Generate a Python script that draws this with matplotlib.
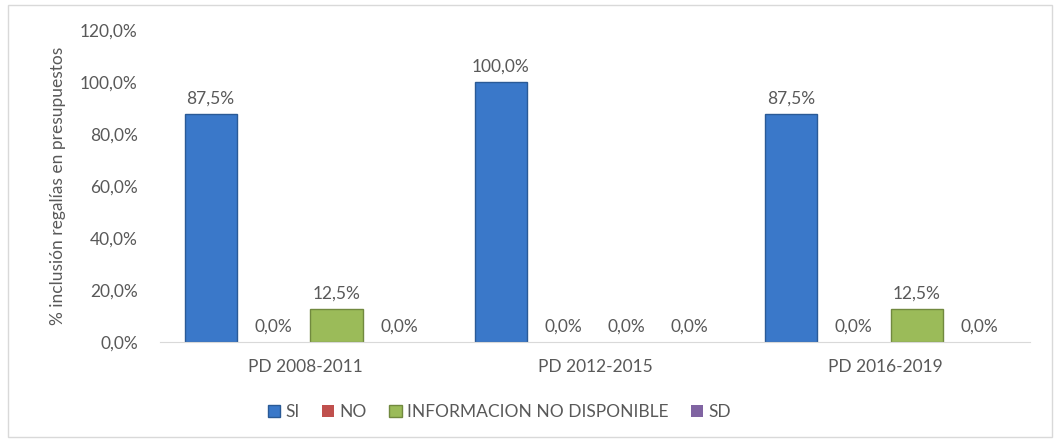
import matplotlib.pyplot as plt
import numpy as np

categorias = ["PD 2008-2011", "PD 2012-2015", "PD 2016-2019"]
series = ["SI", "NO", "INFORMACION NO DISPONIBLE", "SD"]
si = [87.5, 100.0, 87.5]
no = [0.0, 0.0, 0.0]
no_disp = [12.5, 0.0, 12.5]
sd = [0.0, 0.0, 0.0]

colores = ["#3A78C9", "#C0504D", "#9BBB59", "#8064A2"]
bordes = ["#2A5A96", "#8E3A38", "#71893F", "#5E4A78"]
gris = "#595959"

plt.rcParams['font.family'] = ['Lato', 'DejaVu Sans']

fig = plt.figure(figsize=(10.6, 4.41), dpi=100)
ax = fig.add_axes([0.151, 0.2245, 0.821, 0.7075])

x = np.arange(len(categorias))
ancho = 0.18
paso = 0.217
valores = [si, no, no_disp, sd]

for i, (nombre, vals) in enumerate(zip(series, valores)):
    pos = x + (i - 1.5) * paso
    grosor = [1 if v > 0 else 0 for v in vals]
    ax.bar(pos, vals, ancho, color=colores[i], edgecolor=bordes[i],
           linewidth=grosor, label=nombre)
    for xb, v in zip(pos, vals):
        ax.text(xb, v + 3, f"{v:.1f}%".replace(".", ","), ha='center',
                va='bottom', fontsize=12.5, color=gris)

ax.set_xlim(-0.5, 2.5)
ax.set_ylim(0, 120)
ax.set_yticks(range(0, 121, 20))
ax.set_yticklabels([f"{v:.1f}%".replace(".", ",") for v in range(0, 121, 20)])
ax.set_xticks(x)
ax.set_xticklabels(categorias)
ax.tick_params(axis='both', length=0, labelsize=12.5, colors=gris)
ax.tick_params(axis='y', pad=16)
ax.tick_params(axis='x', pad=12)

for lado in ['top', 'right', 'left']:
    ax.spines[lado].set_visible(False)
ax.spines['bottom'].set_color('#D9D9D9')

ax.set_ylabel("% inclusión regalías en presupuestos", fontsize=12.5,
              color=gris, labelpad=10)

ax.legend(loc='upper center', bbox_to_anchor=(0.39, -0.15), ncol=4,
          frameon=False, fontsize=12.5, handlelength=0.7, handleheight=0.7,
          handletextpad=0.3, columnspacing=1.3, labelcolor=gris)

borde = plt.Rectangle((0.008, 0.01), 0.984, 0.978, transform=fig.transFigure,
                      fill=False, edgecolor='#D9D9D9', linewidth=1)
fig.patches.append(borde)

fig.savefig("out.png", dpi=100)
